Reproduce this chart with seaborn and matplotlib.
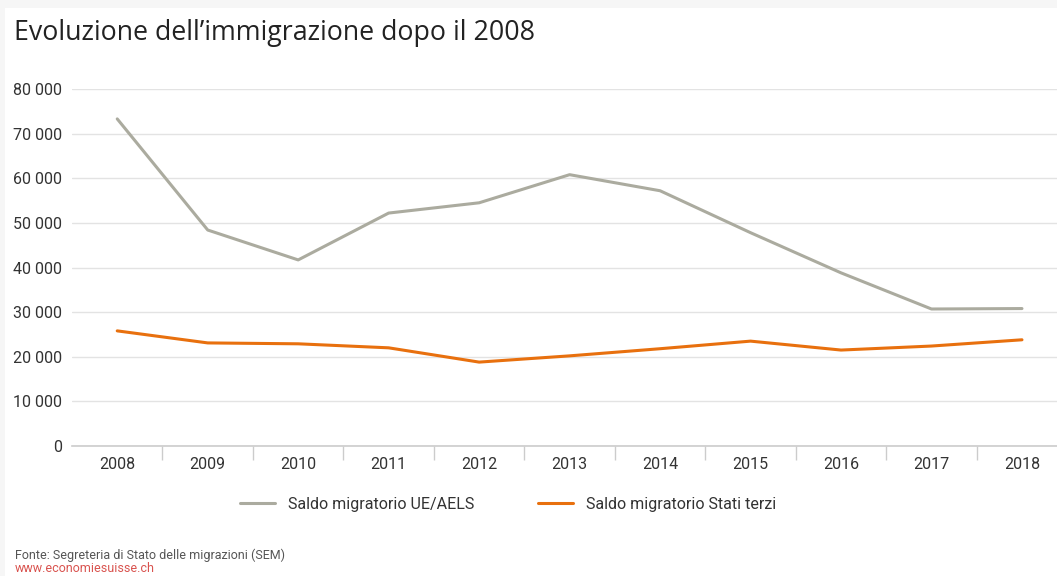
import numpy as np
import pandas as pd
import matplotlib
matplotlib.use('Agg')
import matplotlib.pyplot as plt
import seaborn as sns
from matplotlib.patches import Rectangle
from matplotlib.ticker import FuncFormatter

# data
years = ['2008', '2009', '2010', '2011', '2012', '2013', '2014', '2015', '2016', '2017', '2018']
ue_aels = [73300, 48400, 41700, 52200, 54500, 60800, 57200, 47800, 38800, 30700, 30800]
stati_terzi = [25800, 23100, 22900, 22000, 18800, 20200, 21800, 23500, 21500, 22400, 23800]
series_names = ['Saldo migratorio UE/AELS', 'Saldo migratorio Stati terzi']
colors = ['#abab9f', '#e8700e']

title = "Evoluzione dell\u2019immigrazione dopo il 2008"
source = "Fonte: Segreteria di Stato delle migrazioni (SEM)"
site = "www.economiesuisse.ch"

df = pd.DataFrame({
    'anno': list(range(len(years))) * 2,
    'valore': ue_aels + stati_terzi,
    'serie': [series_names[0]] * len(years) + [series_names[1]] * len(years),
})

sns.set_theme(style='white')
plt.rcParams['font.family'] = ['Roboto', 'DejaVu Sans']

fig = plt.figure(figsize=(10.57, 5.76), dpi=100)
fig.patch.set_facecolor('#f6f6f6')
fig.patches.append(Rectangle((5 / 1057, 0), 1, 1 - 8 / 576, transform=fig.transFigure,
                             facecolor='white', edgecolor='none', zorder=-10))

ax = fig.add_axes([72 / 1057, 1 - 446 / 576, 1 - 72 / 1057, (446 - 89) / 576])
ax.set_facecolor('none')
ax.set_zorder(1)

sns.lineplot(data=df, x='anno', y='valore', hue='serie', palette=colors,
             linewidth=2.2, ax=ax, legend=False)

ax.set_xlim(-0.5, (1057 - 118) / 90.4)
ax.set_ylim(0, 80000)
ax.set_yticks(np.arange(0, 80001, 10000))
ax.yaxis.set_major_formatter(FuncFormatter(lambda v, p: f'{int(v):,}'.replace(',', ' ')))
ax.set_xticks(range(len(years)))
ax.set_xticklabels(years)
ax.set_xticks(np.arange(len(years) - 1) + 0.5, minor=True)
ax.tick_params(axis='x', which='major', length=0, pad=8, labelsize=11.5, labelcolor='#333333')
ax.tick_params(axis='x', which='minor', length=10, width=1, color='#cccccc', bottom=True)
ax.tick_params(axis='y', length=0, pad=7, labelsize=11.5, labelcolor='#333333')
ax.grid(axis='y', color='#e3e3e3', linewidth=1)
ax.set_axisbelow(True)
for s in ['top', 'right', 'left']:
    ax.spines[s].set_visible(False)
ax.spines['bottom'].set_color('#cccccc')
ax.spines['bottom'].set_linewidth(1.2)
ax.set_xlabel('')
ax.set_ylabel('')

handles = [plt.Line2D([], [], color=c, linewidth=2.2) for c in colors]
fig.legend(handles, series_names, loc='center', bbox_to_anchor=(508 / 1057, 1 - 504 / 576),
           ncol=2, frameon=False, fontsize=11.5, handlelength=2.2, columnspacing=4,
           labelcolor='#333333')

fig.text(14 / 1057, 1 - 33 / 576, title, fontsize=19.3, color='#222222', va='center',
         family=['Open Sans', 'DejaVu Sans'])
fig.text(15 / 1057, 1 - 555 / 576, source, fontsize=9, color='#555555', va='center')
fig.text(15 / 1057, 1 - 569 / 576, site, fontsize=9, color='#d9534f', va='center')

fig.savefig('out.png', dpi=100)
